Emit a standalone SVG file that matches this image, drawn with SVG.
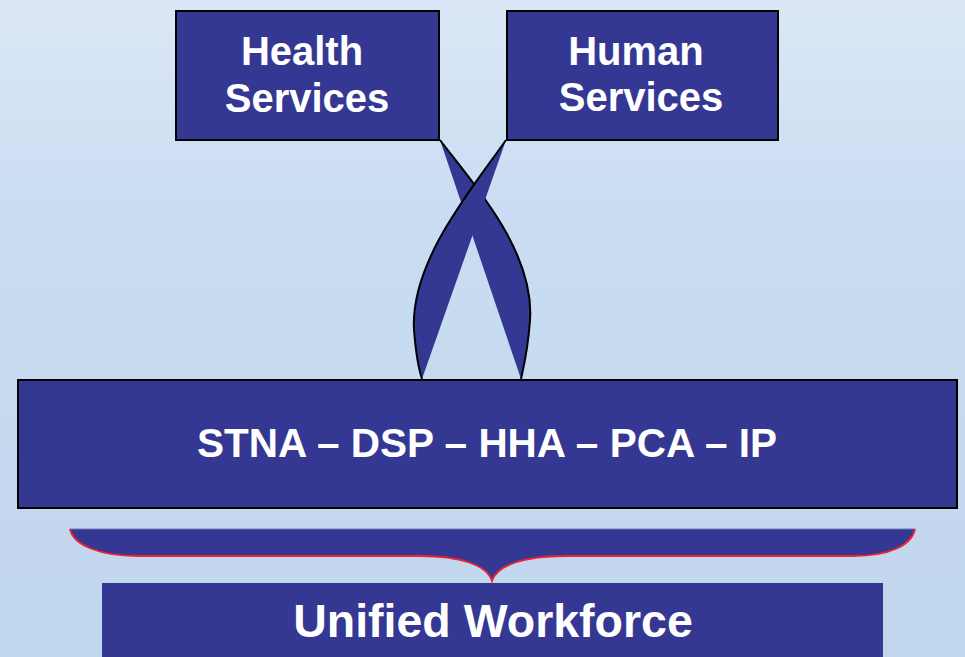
<svg xmlns="http://www.w3.org/2000/svg" width="965" height="657" viewBox="0 0 965 657">
  <defs>
    <linearGradient id="bg" x1="0" y1="0" x2="0" y2="1">
      <stop offset="0" stop-color="#dbe7f6"/>
      <stop offset="0.35" stop-color="#c9dcf2"/>
      <stop offset="1" stop-color="#c0d6ec"/>
    </linearGradient>
    <style>
      .box { fill: #343893; stroke: #000; stroke-width: 2; }
      .plain { fill: #343893; }
      .lbl { fill: #fff; font-family: "Liberation Sans", Arial, sans-serif; font-weight: bold; text-anchor: middle; }
      .ribbon { fill: #343893; stroke: none; }
      .edge { fill: none; stroke: #000; stroke-width: 2; }
    </style>
  </defs>
  <rect x="0" y="0" width="965" height="657" fill="url(#bg)"/>

  <g id="connectors">
    <path class="ribbon" d="M440,140 C470,180 535,250 530,320 C528,350 523,370 521,379 Z"/>
    <path class="edge" d="M440,140 C470,180 535,250 530,320 C528,350 523,370 521,379"/>
    <path class="ribbon" d="M506,140 C475,185 410,260 414,330 C416,355 419,370 422,379 Z"/>
    <path class="edge" d="M506,140 C475,185 410,260 414,330 C416,355 419,370 422,379"/>
  </g>

  <g id="health">
    <rect class="box" x="176" y="11" width="263" height="129"/>
    <text class="lbl" x="302" y="65" font-size="40">Health</text>
    <text class="lbl" x="307" y="112" font-size="40">Services</text>
  </g>

  <g id="human">
    <rect class="box" x="507" y="11" width="271" height="129"/>
    <text class="lbl" x="636" y="65" font-size="40">Human</text>
    <text class="lbl" x="641" y="111" font-size="40">Services</text>
  </g>

  <g id="roles">
    <rect class="box" x="18" y="380" width="939" height="128"/>
    <text class="lbl" x="487" y="457" font-size="40.5">STNA – DSP – HHA – PCA – IP</text>
  </g>

  <g id="brace">
    <path d="M70,529 L915,529 C912,545 890,556 853,556 L565,556 C525,556 497,565 492,581 C487,565 460,556 420,556 L137,556 C100,556 73,545 70,529 Z" fill="#343893" stroke="none"/>
    <line x1="70" y1="529" x2="915" y2="529" stroke="#6f78b8" stroke-width="1"/>
    <path d="M70,529 C73,545 100,556 137,556 L420,556 C460,556 487,565 492,581 C497,565 525,556 565,556 L853,556 C890,556 912,545 915,529" fill="none" stroke="#ee2232" stroke-width="1.8"/>
  </g>

  <g id="workforce">
    <rect class="plain" x="102" y="583" width="781" height="74"/>
    <text class="lbl" x="493" y="637" font-size="46.5">Unified Workforce</text>
  </g>
</svg>
